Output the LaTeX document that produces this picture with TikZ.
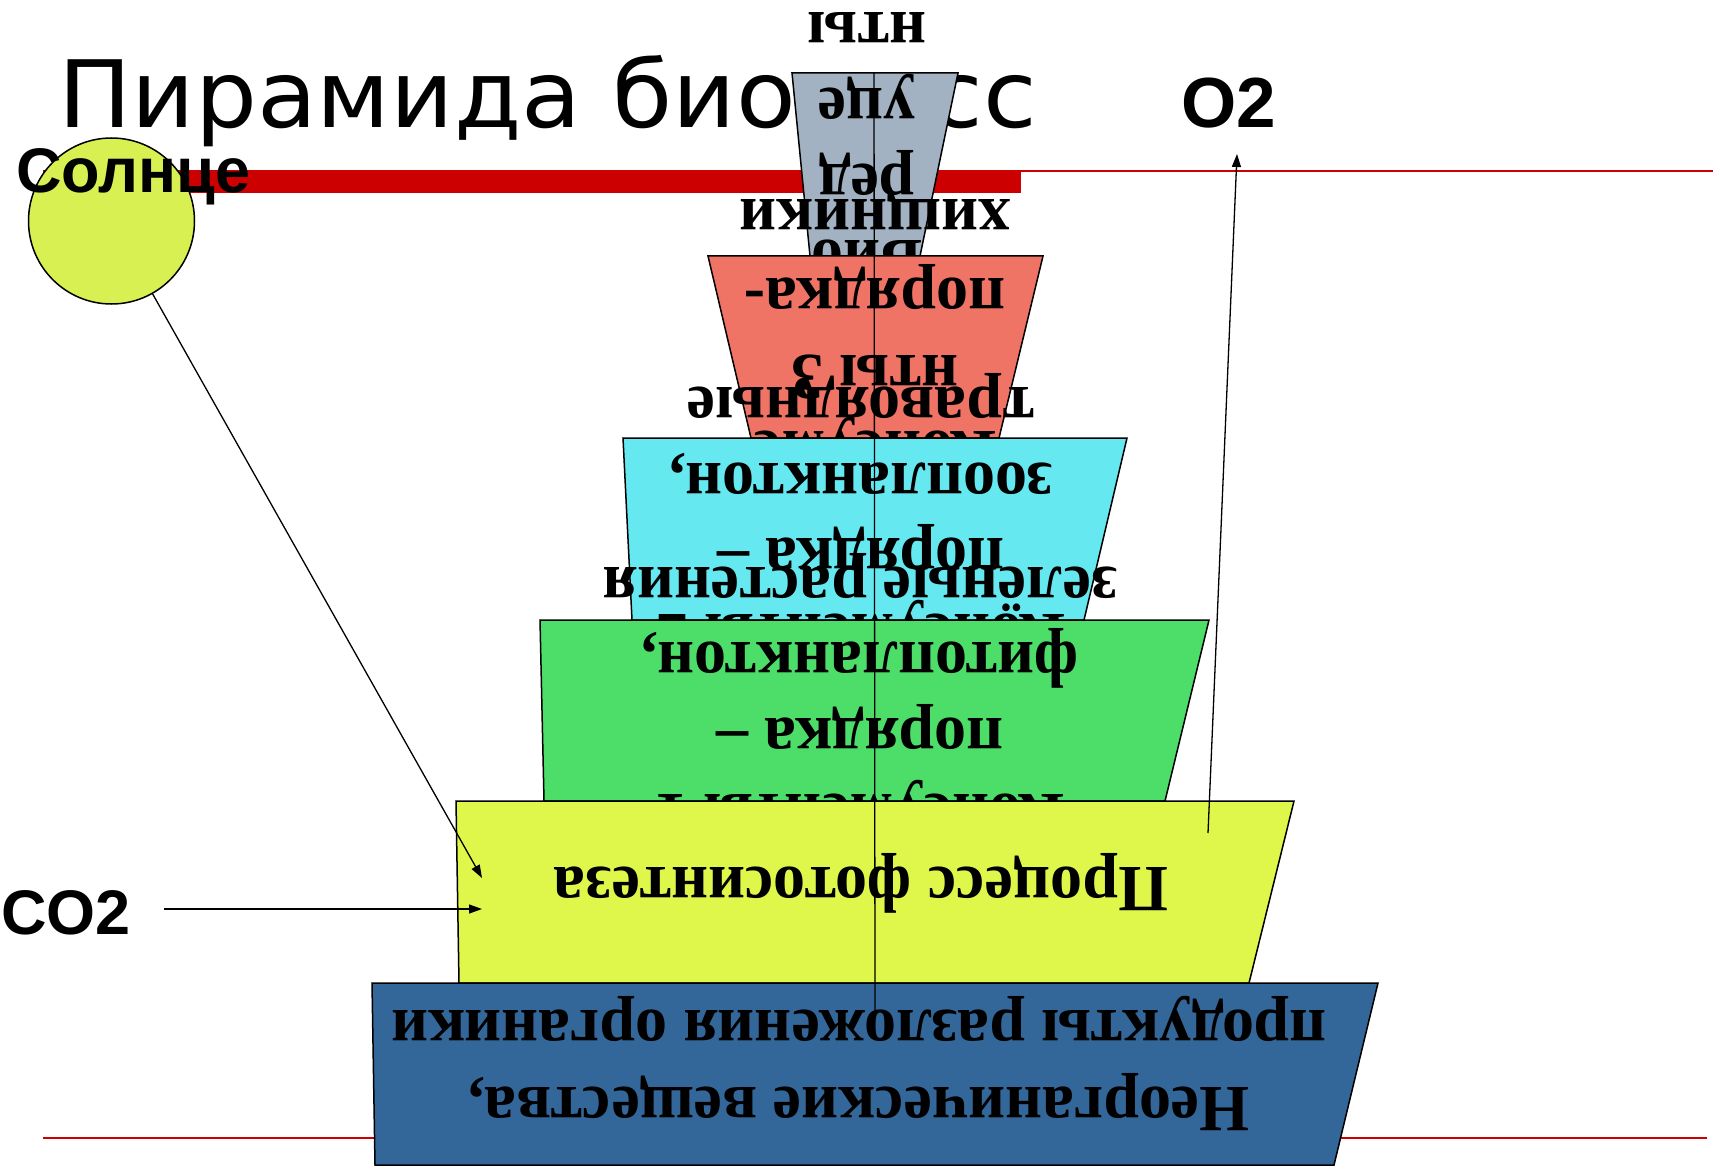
\documentclass[tikz,border=0pt]{standalone}
\usepackage{fontspec}
\setmainfont{Liberation Serif}
\newfontfamily\titlefont{DejaVu Sans}
\newfontfamily\labelfont{Liberation Sans}
\usetikzlibrary{arrows.meta}

\definecolor{barred}{RGB}{204,0,0}
\definecolor{sunfill}{RGB}{217,240,82}
\definecolor{tiergrey}{RGB}{162,178,194}
\definecolor{tierred}{RGB}{240,116,102}
\definecolor{tiercyan}{RGB}{102,232,240}
\definecolor{tiergreen}{RGB}{77,222,106}
\definecolor{tieryellow}{RGB}{223,247,75}
\definecolor{tierblue}{RGB}{51,102,153}

\begin{document}
\begin{tikzpicture}[x=1pt,y=-1pt,
  tier/.style={draw=black,line width=1.5pt},
  tiertext/.style={font=\fontsize{66}{76}\selectfont\bfseries,rotate=180,anchor=base,inner sep=0pt},
  bigsans/.style={font=\labelfont\bfseries\fontsize{#1}{#1}\selectfont,anchor=base west,inner sep=0pt},
  arr/.style={-{Triangle[length=13pt,width=9pt]},line width=1.3pt},
  redline/.style={draw=barred,line width=2.2pt}]

\newcommand\tierline[1]{\scalebox{0.97}[1]{#1}}

\useasboundingbox[fill=white] (0,0) rectangle (1720,1174);

% title
\node[anchor=base west,inner sep=0pt,font=\titlefont\fontsize{93}{93}\selectfont]
  (title) at (58,128) {\scalebox{1.05}[1]{Пирамида биомасс}};

% decorative rules
\fill[barred] (43,170) rectangle (1021,193);
\draw[redline] (1021,171) -- (1713,171);
\draw[redline] (43,1138) -- (1707,1138);

% the sun
\node[circle,draw=black,line width=1.5pt,fill=sunfill,minimum size=166pt,inner sep=0pt]
  (sun) at (111.5,221) {};
\node[bigsans=63] (sunlabel) at (16,193) {Солнце};

% pyramid tiers, top to bottom; each tier's label is set upside down
\filldraw[tier,fill=tiergrey] (792,73) -- (958,73) -- (920,256) -- (810,256) -- cycle;
\node[tiertext] (g1) at (867,241) {\tierline{Био}};
\node[tiertext] (g2) at (867,165) {\tierline{ред}};
\node[tiertext] (g3) at (867,89) {\tierline{уце}};
\node[tiertext] (g4) at (867,13) {\tierline{нты}};

\filldraw[tier,fill=tierred] (708,256) -- (1043,256) -- (999,438) -- (751,438) -- cycle;
\node[tiertext] (r1) at (875,431) {\tierline{Консуме}};
\node[tiertext] (r2) at (875,355) {\tierline{нты 3}};
\node[tiertext] (r3) at (875,278) {\tierline{порядка-}};
\node[tiertext] (r4) at (875,200) {\tierline{хищники}};

\filldraw[tier,fill=tiercyan] (623,438) -- (1127,438) -- (1084,620) -- (632,620) -- cycle;
\node[tiertext] (c1) at (861,614) {\tierline{Консументы 2}};
\node[tiertext] (c2) at (861,538) {\tierline{порядка –}};
\node[tiertext] (c3) at (861,463) {\tierline{зоопланктон,}};
\node[tiertext] (c4) at (861,387) {\tierline{травоядные}};

\filldraw[tier,fill=tiergreen] (540,620) -- (1209,620) -- (1165,801) -- (544,801) -- cycle;
\node[tiertext] (n1) at (860,794) {\tierline{Консументы 1}};
\node[tiertext] (n2) at (860,718) {\tierline{порядка –}};
\node[tiertext] (n3) at (860,642) {\tierline{фитопланктон,}};
\node[tiertext] (n4) at (860,567) {\tierline{зелёные растения}};

\filldraw[tier,fill=tieryellow] (456,801) -- (1294,801) -- (1249,983) -- (459,983) -- cycle;
\node[tiertext] (y1) at (861,867) {\tierline{Процесс фотосинтеза}};

\filldraw[tier,fill=tierblue] (372,983) -- (1378,983) -- (1334,1165) -- (375,1165) -- cycle;
\node[tiertext] (b1) at (859,1087) {\tierline{Неорганические вещества,}};
\node[tiertext] (b2) at (859,1010) {\tierline{продукты разложения органики}};

% central axis
\coordinate (axtop) at (874,73);
\coordinate (axbot) at (875,1010);
\draw[line width=1.3pt] (axtop) -- (axbot);

% gases and light
\node[bigsans=63] (co2) at (1,934) {CO2};
\node[bigsans=71] (o2) at (1181,128) {O2};

\coordinate (lighttip) at (482,878);
\coordinate (co2start) at (164,909);
\coordinate (co2tip) at (482,909);
\coordinate (o2start) at (1208,833);
\coordinate (o2tip) at (1237,154);

\draw[arr] (sun) -- (lighttip);
\draw[arr] (co2start) -- (co2tip);
\draw[arr] (o2start) -- (o2tip);

\end{tikzpicture}
\end{document}
